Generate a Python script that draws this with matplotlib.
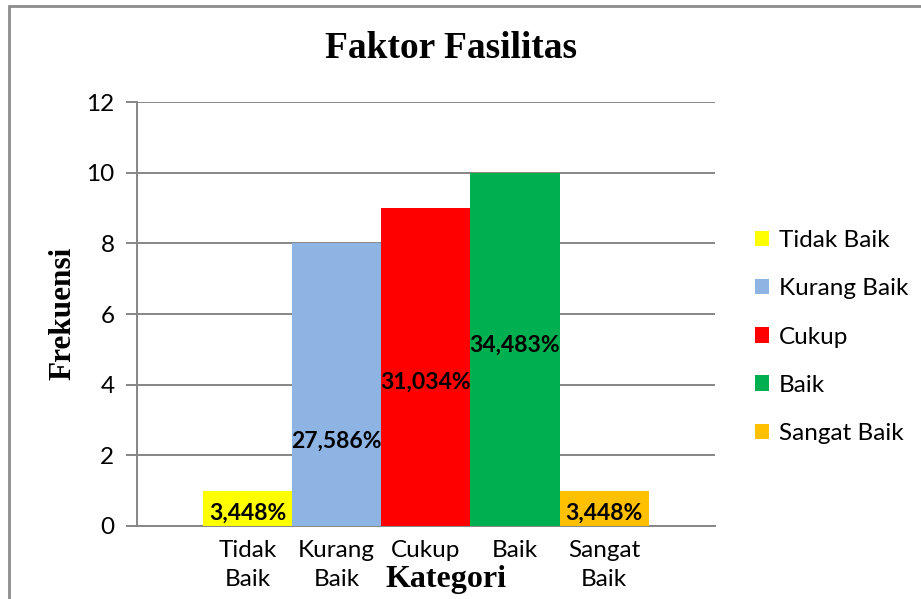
import matplotlib
matplotlib.use('Agg')
import matplotlib.pyplot as plt
from matplotlib.patches import Rectangle

categories = ['Tidak Baik', 'Kurang Baik', 'Cukup', 'Baik', 'Sangat Baik']
tick_labels = ['Tidak\nBaik', 'Kurang\nBaik', 'Cukup', 'Baik', 'Sangat\nBaik']
frekuensi = [1, 8, 9, 10, 1]
persen = ['3,448%', '27,586%', '31,034%', '34,483%', '3,448%']
# where the data labels sit (in y units), as placed in the original
label_y = [0.37, 2.39, 4.08, 5.12, 0.37]

colors = ['#FFFF00', '#8EB4E3', '#FF0000', '#00B050', '#FFC000']
grid_c = '#868686'
sans = 'Lato'
serif = 'Liberation Serif'

fig = plt.figure(figsize=(9.21, 5.99), dpi=100)
ax = fig.add_axes([136.7 / 921, 1 - 526 / 599, (715 - 136.7) / 921, (526 - 102) / 599])

x = list(range(len(categories)))
bars = ax.bar(x, frekuensi, width=1.0, color=colors, label=categories, zorder=3)

for xi, ly, txt in zip(x, label_y, persen):
    ax.text(xi, ly, txt, ha='center', va='center', fontsize=16.5,
            fontweight='bold', family=sans, zorder=4)

ax.set_xlim(-0.5 - 0.745, 4.5 + 0.745)
ax.set_ylim(0, 12)
ax.set_yticks(range(0, 13, 2))
ax.yaxis.grid(True, color=grid_c, lw=1.4, zorder=0)
ax.set_xticks(x)
ax.set_xticklabels(tick_labels, fontsize=17.5, family=sans, linespacing=1.5)
ax.tick_params(axis='x', length=0, pad=10)
ax.tick_params(axis='y', length=8, width=1.4, color=grid_c, labelsize=17.5, pad=8)
for t in ax.get_yticklabels():
    t.set_family(sans)

for s in ['top', 'right']:
    ax.spines[s].set_visible(False)
ax.spines['left'].set_color(grid_c)
ax.spines['left'].set_linewidth(1.4)
ax.spines['bottom'].set_color(grid_c)
ax.spines['bottom'].set_linewidth(1.4)

fig.text(451 / 921, 1 - 48 / 599, 'Faktor Fasilitas', ha='center', va='center',
         fontsize=27, fontweight='bold', family=serif)
fig.text(446 / 921, 1 - 579 / 599, 'Kategori', ha='center', va='center',
         fontsize=23, fontweight='bold', family=serif)
fig.text(63 / 921, 1 - 313 / 599, 'Frekuensi', ha='center', va='center',
         rotation=90, fontsize=22.5, fontweight='bold', family=serif)

leg = fig.legend(handles=bars, labels=categories, loc='center left',
                 bbox_to_anchor=(733 / 921, 1 - 337 / 599), frameon=False,
                 prop={'family': sans, 'size': 17.5}, handlelength=0.6,
                 handleheight=0.6, handletextpad=0.4, labelspacing=1.12)

# outer chart border (cut off at right and bottom like the original)
fig.patches.append(Rectangle((9 / 921, -0.05), 1.0, 1 - 6 / 599 + 0.05,
                             transform=fig.transFigure, fill=False,
                             edgecolor='#8C8C8C', lw=2))

fig.savefig('out.png', dpi=100)
